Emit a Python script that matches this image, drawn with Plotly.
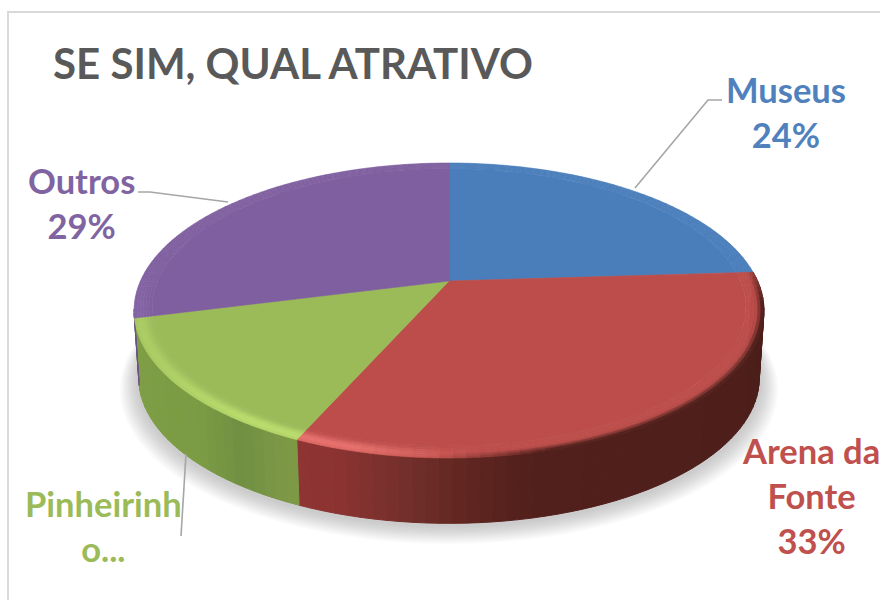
import numpy as np
import plotly.graph_objects as go

# ---- data ----
categories = ["Museus", "Arena da Fonte", "Pinheirinho", "Outros"]
values = [24, 32.6, 14.4, 29]
label_lines = [["Museus", "24%"], ["Arena da", "Fonte", "33%"], ["Pinheirinh", "o..."], ["Outros", "29%"]]
title_text = "SE SIM, QUAL ATRATIVO"

# ---- styles ----
top_colors = ["#4a7ebb", "#bd4d4a", "#9bbb59", "#7f5f9f"]
label_colors = ["#4f81bd", "#c0504d", "#9bbb59", "#8064a2"]
highlight = ["#4a7ebb", "#e8706c", "#bbdd6c", "#8a6aab"]
side_stops = {
    1: ([298, 340, 400, 450, 520, 765], ["#8f3534", "#8a3331", "#75302c", "#652823", "#53201c", "#4c1e1a"]),
    2: ([130, 200, 240, 270, 300], ["#7f9e45", "#7a9b44", "#718f42", "#7a9646", "#7f9a45"]),
    3: ([130, 140], ["#6d5289", "#6d5289"]),
}
label_pos = [(786, 112), (811, 495), (103, 526), (81, 203)]
leaders = [([722, 708, 635], [100, 100, 188]),
           ([138, 150, 228], [192, 192, 202]),
           ([186, 181], [454, 536])]

# ---- projection of the pie disc ----
CX, CY, A, B, K = 449.0, 281.0, 308.6, 141.6, 0.2
DEPTH = 68


def project(theta_deg, r=1.0, scale=1.0, dy=0.0):
    t = np.radians(theta_deg)
    X, Y = r * np.sin(t), r * np.cos(t)
    w = 1 + K * Y
    return CX + scale * A * X / w, CY + dy - scale * B * Y / w


def hex2rgb(c):
    return np.array([int(c[i:i + 2], 16) for i in (1, 3, 5)], float)


def rgb(a):
    return "rgb(%d,%d,%d)" % tuple(np.clip(a, 0, 255).round())


def poly(xs, ys, color, lw=1.0):
    return go.Scatter(x=list(xs), y=list(ys), mode="lines", fill="toself", fillcolor=color,
                      line=dict(color=color, width=lw), hoverinfo="skip", showlegend=False)


def smooth(t):
    t = np.clip(t, 0, 1)
    return t * t * (3 - 2 * t)


fig = go.Figure()
edges = np.concatenate([[0], np.cumsum(values)]) * 3.6

# soft shadow
full = np.linspace(0, 360, 181)
for i in range(14):
    g = 18 - i * 1.25
    xs, ys = project(full, 1.0, 0.985 + g / 300, DEPTH + 2 + g * 0.15)
    fig.add_trace(poly(xs, ys + g * 0.3, "rgba(100,100,120,0.026)", 0))

STEP = 2.0
# side wall
for idx in (1, 2, 3):
    a0, a1 = edges[idx], min(edges[idx + 1], 259)
    if a0 >= a1:
        continue
    n = max(2, int((a1 - a0) / STEP))
    ang = np.linspace(a0, a1, n + 1)
    sx, sc = side_stops[idx]
    sc = np.array([hex2rgb(c) for c in sc])
    for t0, t1 in zip(ang[:-1], ang[1:]):
        x0, y0 = project(t0)
        x1, y1 = project(t1)
        x2, y2 = project(t1, 1.0, 0.985, DEPTH)
        x3, y3 = project(t0, 1.0, 0.985, DEPTH)
        xm = (x0 + x1) / 2
        col = [np.interp(xm, sx, sc[:, j]) for j in range(3)]
        fig.add_trace(poly([x0, x1, x2, x3, x0], [y0, y1, y2, y3, y0], rgb(np.array(col))))

# top face
R_IN = 0.945
for idx in range(4):
    ang = np.linspace(edges[idx], edges[idx + 1], 80)
    xs, ys = project(ang, R_IN)
    fig.add_trace(poly(np.r_[CX, xs, CX], np.r_[CY, ys, CY], top_colors[idx], 0.6))

# bevelled rim (blends smoothly from the flat face into a highlight / dark edge)
BANDS = 6
radii = np.linspace(R_IN, 1.0, BANDS + 1)
for idx in range(4):
    n = max(2, int((edges[idx + 1] - edges[idx]) / STEP))
    ang = np.linspace(edges[idx], edges[idx + 1], n + 1)
    top = hex2rgb(top_colors[idx])
    hi = hex2rgb(highlight[idx])
    if idx in side_stops:
        sx, sc = side_stops[idx]
        sc = np.array([hex2rgb(c) for c in sc])
    for t0, t1 in zip(ang[:-1], ang[1:]):
        tm = (t0 + t1) / 2
        xm, _ = project(tm)
        front = float(np.clip((0.15 - np.cos(np.radians(tm))) / 0.3, 0, 1))
        edge_side = top
        if idx in side_stops:
            edge_side = np.array([np.interp(xm, sx, sc[:, j]) for j in range(3)])
        lit = front * float(np.clip((480 - xm) / 130, 0, 1)) * float(np.interp(xm, [130, 240], [0.45, 1.0]))
        dark = front * float(np.clip((xm - 430) / 120, 0, 1))
        for b in range(BANDS):
            u = (b + 0.5) / BANDS
            c = top + (hi - top) * lit * smooth(u / 0.7) * (1 - 0.25 * smooth((u - 0.7) / 0.3))
            c = c + (edge_side - c) * dark * smooth((u - 0.5) / 0.5)
            xa0, ya0 = project(t0, radii[b])
            xa1, ya1 = project(t1, radii[b])
            xb1, yb1 = project(t1, radii[b + 1])
            xb0, yb0 = project(t0, radii[b + 1])
            fig.add_trace(poly([xa0, xa1, xb1, xb0, xa0], [ya0, ya1, yb1, yb0, ya0], rgb(c), 0.6))

# leader lines
for lx, ly in leaders:
    fig.add_trace(go.Scatter(x=lx, y=ly, mode="lines", line=dict(color="#a6a6a6", width=1.6),
                             hoverinfo="skip", showlegend=False))

# frame
fig.add_trace(go.Scatter(x=[8, 8, 880], y=[600, 12, 12], mode="lines", line=dict(color="#d9d9d9", width=2),
                         hoverinfo="skip", showlegend=False))

FONT = "Lato, Carlito, Calibri, sans-serif"
fig.add_annotation(x=51, y=63, text="<b>%s</b>" % title_text, showarrow=False, xanchor="left", yanchor="middle",
                   font=dict(family=FONT, size=42, color="#595959"))
for lines, (px, py), c in zip(label_lines, label_pos, label_colors):
    fig.add_annotation(x=px, y=py, text="<br>".join("<b>%s</b>" % s for s in lines), showarrow=False,
                       xanchor="center", yanchor="middle", align="center",
                       font=dict(family=FONT, size=34.5, color=c))

fig.update_layout(width=880, height=600, margin=dict(l=0, r=0, t=0, b=0), paper_bgcolor="white",
                  plot_bgcolor="white", showlegend=False,
                  xaxis=dict(range=[0, 880], visible=False, fixedrange=True),
                  yaxis=dict(range=[600, 0], visible=False, fixedrange=True))
fig.write_html("out.html", config={"displayModeBar": False},
               post_script="document.body.style.margin='0';document.documentElement.style.overflow='hidden';")
